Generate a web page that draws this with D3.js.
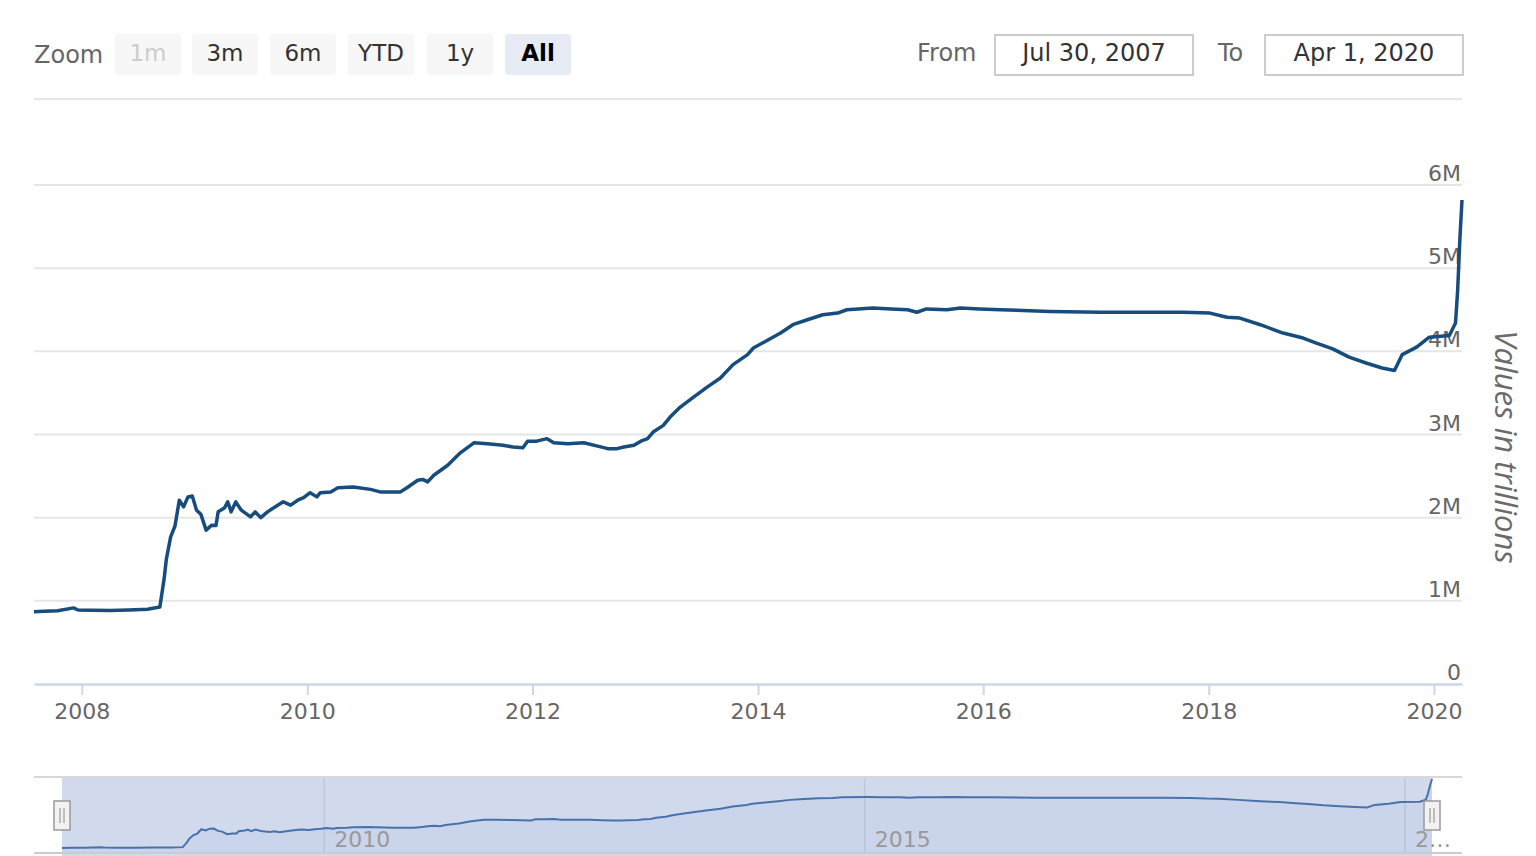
<!DOCTYPE html>
<html>
<head>
<meta charset="utf-8">
<script src="https://cdn.jsdelivr.net/npm/d3@7"></script>
<style>
  html, body { margin: 0; padding: 0; background: #fff; }
  svg { display: block; font-family: "DejaVu Sans", Verdana, sans-serif; }
</style>
</head>
<body>
<svg id="vis" width="1536" height="856"></svg>
<script>
// weekly-ish readings of the balance sheet, in millions of dollars
var dates = [
  '2007-07-30', '2007-09-01', '2007-10-15', '2007-12-05', '2007-12-20', '2008-02-01',
  '2008-04-01', '2008-06-01', '2008-08-01', '2008-09-10', '2008-09-24', '2008-10-01',
  '2008-10-15', '2008-10-29', '2008-11-12', '2008-11-26', '2008-12-10', '2008-12-24',
  '2009-01-07', '2009-01-21', '2009-02-07', '2009-02-25', '2009-03-11', '2009-03-18',
  '2009-04-08', '2009-04-18', '2009-04-29', '2009-05-14', '2009-06-01', '2009-07-01',
  '2009-07-16', '2009-08-03', '2009-08-25', '2009-09-27', '2009-10-15', '2009-11-08',
  '2009-12-01', '2009-12-20', '2010-01-10', '2010-02-01', '2010-02-12', '2010-03-18',
  '2010-04-10', '2010-05-30', '2010-07-25', '2010-08-25', '2010-10-30', '2010-11-20',
  '2010-12-25', '2011-01-10', '2011-01-26', '2011-02-15', '2011-04-01', '2011-05-12',
  '2011-06-25', '2011-08-08', '2011-09-27', '2011-10-30', '2011-12-01', '2011-12-16',
  '2012-01-15', '2012-02-17', '2012-03-10', '2012-04-25', '2012-06-15', '2012-07-30',
  '2012-09-01', '2012-10-01', '2012-10-23', '2012-11-25', '2012-12-17', '2013-01-08',
  '2013-01-26', '2013-02-28', '2013-03-22', '2013-04-24', '2013-06-06', '2013-07-20',
  '2013-09-01', '2013-10-12', '2013-11-28', '2013-12-17', '2014-01-20', '2014-03-15',
  '2014-04-24', '2014-06-10', '2014-07-30', '2014-09-16', '2014-10-16', '2015-01-08',
  '2015-03-08', '2015-05-01', '2015-05-31', '2015-07-01', '2015-09-05', '2015-10-20',
  '2015-12-20', '2016-02-25', '2016-08-05', '2017-01-15', '2017-06-25', '2017-10-10',
  '2018-01-05', '2018-03-01', '2018-04-12', '2018-06-17', '2018-08-30', '2018-11-03',
  '2018-12-16', '2019-02-07', '2019-04-01', '2019-05-26', '2019-07-17', '2019-08-26',
  '2019-09-20', '2019-11-06', '2019-12-17', '2020-02-20', '2020-03-11', '2020-03-18',
  '2020-03-25', '2020-04-01'
];

var totalAssets = [
  870000, 875000, 880000, 915000, 890000, 888000,
  885000, 890000, 900000, 925000, 1270000, 1500000,
  1770000, 1900000, 2210000, 2130000, 2250000, 2260000,
  2090000, 2040000, 1850000, 1910000, 1905000, 2070000,
  2120000, 2190000, 2070000, 2190000, 2090000, 2010000,
  2070000, 2000000, 2070000, 2150000, 2190000, 2150000,
  2210000, 2240000, 2300000, 2250000, 2300000, 2310000,
  2360000, 2370000, 2340000, 2310000, 2310000, 2360000,
  2450000, 2460000, 2430000, 2510000, 2630000, 2780000,
  2900000, 2890000, 2870000, 2850000, 2840000, 2920000,
  2920000, 2950000, 2900000, 2890000, 2900000, 2860000,
  2830000, 2830000, 2850000, 2870000, 2920000, 2950000,
  3030000, 3110000, 3210000, 3330000, 3450000, 3570000,
  3680000, 3840000, 3960000, 4040000, 4110000, 4220000,
  4320000, 4380000, 4440000, 4460000, 4500000, 4520000,
  4510000, 4500000, 4470000, 4510000, 4500000, 4520000,
  4510000, 4500000, 4480000, 4470000, 4470000, 4470000,
  4460000, 4410000, 4400000, 4320000, 4220000, 4160000,
  4100000, 4030000, 3930000, 3860000, 3800000, 3770000,
  3960000, 4050000, 4170000, 4190000, 4340000, 4740000,
  5340000, 5820000
];

var yTicks = [0, 1000000, 2000000, 3000000, 4000000, 5000000, 6000000];
var yTickLabels = ['0', '1M', '2M', '3M', '4M', '5M', '6M'];
var xTickYears = [2008, 2010, 2012, 2014, 2016, 2018, 2020];
var navTickYears = [2010, 2015, 2020];
var navTickLabels = ['2010', '2015', '2…'];
var zoomButtons = ['1m', '3m', '6m', 'YTD', '1y', 'All'];
var rangeFrom = 'Jul 30, 2007',
    rangeTo = 'Apr 1, 2020',
    yTitle = 'Values in trillions';

var prefs = {
  lineColor: '#174c7e',
  navLineColor: '#3a6aa3',
  gridColor: '#e6e6e6',
  axisColor: '#ccd6eb',
  labelColor: '#666666',
  maskFill: 'rgba(102,133,194,0.3)',
  topFontSize: 24,
  axisFontSize: 22,
  plot: { left: 34, right: 1462, top: 185, bottom: 684 },
  nav: { left: 62, right: 1432, top: 777, bottom: 853, zeroY: 860, maxY: 779 }
};

var parseDate = d3.timeParse('%Y-%m-%d');
var data = dates.map(function(d, i) {
  return { date: parseDate(d), value: totalAssets[i] };
});

var svg = d3.select('#vis');

function drawRangeSelector() {
  var g = svg.append('g').attr('class', 'range-selector');

  g.append('text')
    .attr('x', 34).attr('y', 63)
    .attr('font-size', prefs.topFontSize)
    .attr('fill', prefs.labelColor)
    .text('Zoom');

  var btnX = [115, 192, 270, 348, 427, 505];
  var btns = g.selectAll('.btn')
    .data(zoomButtons)
    .enter().append('g')
      .attr('class', 'btn')
      .attr('transform', function(d, i) { return 'translate(' + btnX[i] + ',34)'; });

  btns.append('rect')
    .attr('width', 66).attr('height', 41).attr('rx', 3)
    .attr('fill', function(d) { return d === 'All' ? '#e6ebf5' : '#f7f7f7'; });

  btns.append('text')
    .attr('x', 33).attr('y', 27)
    .attr('text-anchor', 'middle')
    .attr('font-size', 23)
    .attr('font-weight', function(d) { return d === 'All' ? 'bold' : 'normal'; })
    .attr('fill', function(d) {
      if (d === '1m') return '#cccccc';
      return d === 'All' ? '#000000' : '#333333';
    })
    .text(function(d) { return d; });

  /* date inputs */
  var inputs = [
    { label: 'From', lx: 917, bx: 995, value: rangeFrom },
    { label: 'To', lx: 1218, bx: 1265, value: rangeTo }
  ];

  inputs.forEach(function(inp) {
    g.append('text')
      .attr('x', inp.lx).attr('y', 61)
      .attr('font-size', prefs.topFontSize)
      .attr('fill', prefs.labelColor)
      .text(inp.label);
    g.append('rect')
      .attr('x', inp.bx).attr('y', 35)
      .attr('width', 198).attr('height', 40)
      .attr('fill', '#fff')
      .attr('stroke', '#cccccc').attr('stroke-width', 2);
    g.append('text')
      .attr('x', inp.bx + 99).attr('y', 61)
      .attr('text-anchor', 'middle')
      .attr('font-size', prefs.topFontSize)
      .attr('fill', '#333333')
      .text(inp.value);
  });

  svg.append('line')
    .attr('x1', prefs.plot.left).attr('x2', prefs.plot.right)
    .attr('y1', 99).attr('y2', 99)
    .attr('stroke', prefs.gridColor).attr('stroke-width', 2);
}

function drawMain() {
  var p = prefs.plot;

  var x = d3.scaleTime()
    .domain([parseDate('2007-07-30'), parseDate('2020-04-01')])
    .range([p.left, p.right]);

  var y = d3.scaleLinear()
    .domain([0, 6000000])
    .range([p.bottom, p.top]);

  /* grid lines */
  svg.append('g').attr('class', 'grid')
    .selectAll('line')
    .data(yTicks.slice(1))
    .enter().append('line')
      .attr('x1', p.left).attr('x2', p.right)
      .attr('y1', function(d) { return y(d); })
      .attr('y2', function(d) { return y(d); })
      .attr('stroke', prefs.gridColor)
      .attr('stroke-width', 2);

  /* x axis */
  var xAxis = d3.axisBottom(x)
    .tickValues(xTickYears.map(function(yr) { return new Date(yr, 0, 1); }))
    .tickFormat(d3.timeFormat('%Y'))
    .tickSize(11)
    .tickSizeOuter(0)
    .tickPadding(8);

  var gx = svg.append('g')
    .attr('class', 'x axis')
    .attr('transform', 'translate(0,' + p.bottom + ')')
    .call(xAxis);

  gx.select('.domain').attr('stroke', prefs.axisColor).attr('stroke-width', 2.5);
  gx.selectAll('.tick line').attr('stroke', prefs.axisColor).attr('stroke-width', 2);
  gx.selectAll('.tick text')
    .attr('font-size', prefs.axisFontSize)
    .attr('font-family', '"DejaVu Sans", Verdana, sans-serif')
    .attr('fill', prefs.labelColor);

  /* y axis, labels sit above their grid lines on the right */
  var yAxis = d3.axisLeft(y)
    .tickValues(yTicks)
    .tickFormat(function(d, i) { return yTickLabels[i]; })
    .tickSize(0)
    .tickPadding(1);

  var gy = svg.append('g')
    .attr('class', 'y axis')
    .attr('transform', 'translate(' + p.right + ',0)')
    .call(yAxis);

  gy.select('.domain').remove();
  gy.selectAll('.tick text')
    .attr('dy', '-0.2em')
    .attr('font-size', prefs.axisFontSize)
    .attr('font-family', '"DejaVu Sans", Verdana, sans-serif')
    .attr('fill', prefs.labelColor);

  var line = d3.line()
    .x(function(d) { return x(d.date); })
    .y(function(d) { return y(d.value); })
    .curve(d3.curveLinear);

  svg.append('path')
    .datum(data)
    .attr('fill', 'none')
    .attr('stroke', prefs.lineColor)
    .attr('stroke-width', 3.5)
    .attr('stroke-linejoin', 'round')
    .attr('d', line);

  svg.append('text')
    .attr('transform', 'translate(1495,447) rotate(90)')
    .attr('text-anchor', 'middle')
    .attr('font-family', '"Open Sans", sans-serif')
    .attr('font-style', 'italic')
    .attr('font-size', 31)
    .attr('fill', '#6b6b6b')
    .text(yTitle);
}

function drawNavigator() {
  var n = prefs.nav;

  var x = d3.scaleTime()
    .domain([parseDate('2007-07-30'), parseDate('2020-04-01')])
    .range([n.left, n.right]);

  var y = d3.scaleLinear()
    .domain([0, d3.max(totalAssets)])
    .range([n.zeroY, n.maxY]);

  var g = svg.append('g').attr('class', 'navigator');

  g.selectAll('.nav-grid')
    .data(navTickYears)
    .enter().append('line')
      .attr('class', 'nav-grid')
      .attr('x1', function(d) { return x(new Date(d, 0, 1)); })
      .attr('x2', function(d) { return x(new Date(d, 0, 1)); })
      .attr('y1', n.top).attr('y2', n.bottom)
      .attr('stroke', prefs.gridColor)
      .attr('stroke-width', 1.5);

  var area = d3.area()
    .x(function(d) { return x(d.date); })
    .y0(n.bottom)
    .y1(function(d) { return y(d.value); });

  var line = d3.line()
    .x(function(d) { return x(d.date); })
    .y(function(d) { return y(d.value); });

  g.append('path')
    .datum(data)
    .attr('fill', 'rgba(51,92,173,0.05)')
    .attr('d', area);

  g.append('path')
    .datum(data)
    .attr('fill', 'none')
    .attr('stroke', prefs.navLineColor)
    .attr('stroke-width', 2)
    .attr('d', line);

  /* selected range mask */
  g.append('rect')
    .attr('x', n.left).attr('y', n.top)
    .attr('width', n.right - n.left).attr('height', 856 - n.top)
    .attr('fill', prefs.maskFill);

  g.selectAll('.nav-label')
    .data(navTickYears)
    .enter().append('text')
      .attr('class', 'nav-label')
      .attr('x', function(d) { return x(new Date(d, 0, 1)) + 10; })
      .attr('y', 847)
      .attr('font-size', 22)
      .attr('fill', '#999999')
      .text(function(d, i) { return navTickLabels[i]; });

  /* outline */
  [n.top, n.bottom].forEach(function(yy, i) {
    g.append('line')
      .attr('x1', prefs.plot.left).attr('x2', prefs.plot.right)
      .attr('y1', yy).attr('y2', yy)
      .attr('stroke', i === 0 ? '#d8d8d8' : '#cccccc')
      .attr('stroke-width', 2);
  });

  /* handles */
  [n.left, n.right].forEach(function(hx) {
    var h = g.append('g').attr('transform', 'translate(' + hx + ',815)');
    h.append('rect')
      .attr('x', -8).attr('y', -14)
      .attr('width', 16).attr('height', 29)
      .attr('fill', '#f2f2f2')
      .attr('stroke', '#999999').attr('stroke-width', 1.5);
    [-2, 2].forEach(function(dx) {
      h.append('line')
        .attr('x1', dx).attr('x2', dx)
        .attr('y1', -7).attr('y2', 8)
        .attr('stroke', '#999999').attr('stroke-width', 1.2);
    });
  });
}

drawRangeSelector();
drawMain();
drawNavigator();
</script>
</body>
</html>
